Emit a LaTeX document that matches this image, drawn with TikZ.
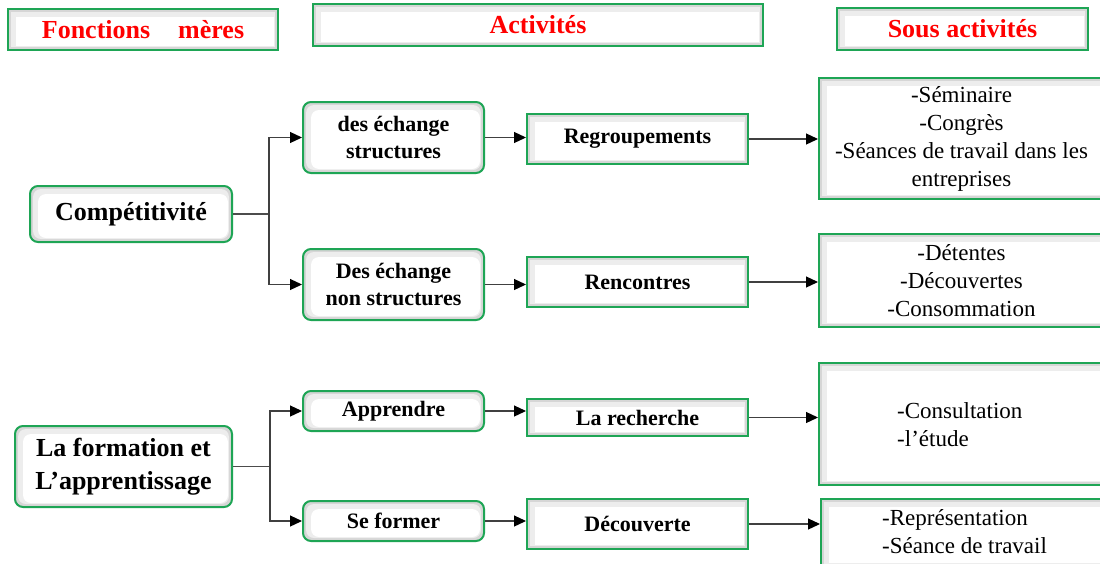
\documentclass[tikz,border=0pt]{standalone}
\usepackage{fontspec}
\setmainfont{Liberation Serif}
\usetikzlibrary{arrows.meta,calc}
\definecolor{bgreen}{RGB}{30,165,85}
\begin{document}
\begin{tikzpicture}[x=1pt,y=-1pt,
 bevel/.style={path picture={
   \fill[black!16] (path picture bounding box.south west) rectangle (path picture bounding box.north east);
   \fill[black!7] ([shift={(3pt,3pt)}]path picture bounding box.south west) rectangle ([shift={(-3pt,-3pt)}]path picture bounding box.north east);
   \fill[white] ([shift={(8pt,4pt)}]path picture bounding box.south west) rectangle ([shift={(-4pt,-8pt)}]path picture bounding box.north east);
 }},
 box/.style={draw=bgreen, line width=2pt, fill=white, bevel, inner sep=0pt, align=center},
 rbox/.style={box, rounded corners=8pt},
 head/.style={box, text=red, font=\fontsize{26}{30}\selectfont\bfseries},
 mother/.style={rbox, font=\fontsize{26}{33}\selectfont\bfseries},
 act/.style={rbox, minimum width=181pt, font=\fontsize{22}{27}\selectfont\bfseries},
 actb/.style={box, minimum width=221pt, font=\fontsize{22}{27}\selectfont\bfseries},
 sub/.style={box, font=\fontsize{23}{28}\selectfont},
 txt/.style={inner sep=0pt, align=left, anchor=west, font=\fontsize{23}{28}\selectfont},
 arr/.style={draw=black!75, line width=1.2pt, -{Triangle[length=12pt,width=11pt,color=black]}},
 lin/.style={draw=black!70, line width=1.2pt}
]
\clip (0,0) rectangle (1100,563);
\fill[white] (0,0) rectangle (1100,563);

% headers
\node[head, minimum width=270pt, minimum height=41pt] (h1) at (143,29.5) {Fonctions\hspace{28pt}mères};
\node[head, minimum width=450pt, minimum height=42pt] (h2) at (538,25) {Activités};
\node[head, minimum width=251pt, minimum height=42pt] (h3) at (962.5,29) {Sous activités};

% mother functions
\node[mother, minimum width=202pt, minimum height=56pt] (comp) at (131,214) {Compétitivité};
\node[mother, minimum width=217pt, minimum height=81pt] (form) at (123.5,466.5) {La formation et\\L’apprentissage};

% activities
\node[act, minimum height=71pt] (des) at (393.5,137.5) {des échange\\structures};
\node[act, minimum height=71pt] (desn) at (393.5,284.5) {Des échange\\non structures};
\node[act, minimum height=40pt] (app) at (393.5,411) {Apprendre};
\node[act, minimum height=40pt] (sef) at (393.5,521) {Se former};

\node[actb, minimum height=50pt] (reg) at (637.5,139) {Regroupements};
\node[actb, minimum height=50pt] (ren) at (637.5,282) {Rencontres};
\node[actb, minimum height=37pt] (lar) at (637.5,417.5) {La recherche};
\node[actb, minimum height=50pt] (dec) at (637.5,524) {Découverte};

% sub activities
\node[sub, minimum width=285pt, minimum height=121pt] (s1) at (961.5,138.5) {-Séminaire\\-Congrès\\-Séances de travail dans les\\entreprises};
\node[sub, minimum width=285pt, minimum height=93pt] (s2) at (961.5,280.5) {-Détentes\\-Découvertes\\-Consommation};
\node[sub, minimum width=285pt, minimum height=122pt] (s3) at (961.5,424) {};
\node[sub, minimum width=283pt, minimum height=68pt] (s4) at (962.5,533) {};
\node[txt] (s3t) at (897,424.5) {-Consultation\\-l’étude};
\node[txt] (s4t) at (882,532) {-Représentation\\-Séance de travail};

% connectors
\draw[lin] (comp.east) -- ++(36,0) coordinate (jc);
\draw[arr] (jc) |- (des.west);
\draw[arr] (jc) |- (desn.west);
\draw[lin] (form.east) -- ++(37,0) coordinate (jf);
\draw[arr] (jf) |- (app.west);
\draw[arr] (jf) |- (sef.west);

\draw[arr] (des.east) -- (des.east -| reg.west);
\draw[arr] (desn.east) -- (desn.east -| ren.west);
\draw[arr] (app.east) -- (app.east -| lar.west);
\draw[arr] (sef.east) -- (sef.east -| dec.west);

\draw[arr] (reg.east) -- (reg.east -| s1.west);
\draw[arr] (ren.east) -- (ren.east -| s2.west);
\draw[arr] (lar.east) -- (lar.east -| s3.west);
\draw[arr] (dec.east) -- (dec.east -| s4.west);
\end{tikzpicture}
\end{document}
